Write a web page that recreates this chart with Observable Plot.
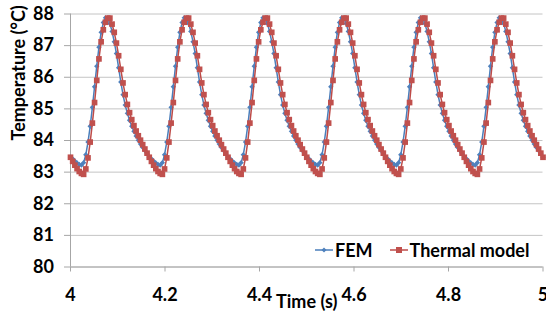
<!DOCTYPE html>
<html>
<head>
<meta charset="utf-8">
<script src="https://cdn.jsdelivr.net/npm/d3@7"></script>
<script src="https://cdn.jsdelivr.net/npm/@observablehq/plot@0.6"></script>
<style>
  html, body { margin: 0; padding: 0; background: #fff; }
  #wrap { position: relative; width: 546px; height: 324px; font-family: Lato, "DejaVu Sans", sans-serif; font-weight: bold; }
  #legend { position: absolute; left: 315px; top: 239px; display: flex; align-items: center; font-size: 18px; line-height: 22px; color: #000; white-space: nowrap; }
  #legend .item { display: flex; align-items: center; }
  #legend svg { display: block; }
</style>
</head>
<body>
<div id="wrap">
  <div id="chart"></div>
  <div id="legend"></div>
</div>
<script>
// Sampling grid (s)
const t0 = 4;
const dt = 1 / 216;

// FEM temperatures (°C)
const femValues = [
  83.47,83.42,83.35,83.29,83.24,83.22,83.30,83.55,83.95,84.45,85.05,85.70,86.35,86.95,87.42,87.73,87.88,87.85,87.70,87.45,87.12,86.75,86.30,85.85,85.45,85.12,84.86,84.64,84.45,84.29,84.14,84.01,83.89,83.78,83.68,83.58,
  83.47,83.42,83.35,83.29,83.24,83.22,83.30,83.55,83.95,84.45,85.05,85.70,86.35,86.95,87.42,87.73,87.88,87.85,87.70,87.45,87.12,86.75,86.30,85.85,85.45,85.12,84.86,84.64,84.45,84.29,84.14,84.01,83.89,83.78,83.68,83.58,
  83.47,83.42,83.35,83.29,83.24,83.22,83.30,83.55,83.95,84.45,85.05,85.70,86.35,86.95,87.42,87.73,87.88,87.85,87.70,87.45,87.12,86.75,86.30,85.85,85.45,85.12,84.86,84.64,84.45,84.29,84.14,84.01,83.89,83.78,83.68,83.58,
  83.47,83.42,83.35,83.29,83.24,83.22,83.30,83.55,83.95,84.45,85.05,85.70,86.35,86.95,87.42,87.73,87.88,87.85,87.70,87.45,87.12,86.75,86.30,85.85,85.45,85.12,84.86,84.64,84.45,84.29,84.14,84.01,83.89,83.78,83.68,83.58,
  83.47,83.42,83.35,83.29,83.24,83.22,83.30,83.55,83.95,84.45,85.05,85.70,86.35,86.95,87.42,87.73,87.88,87.85,87.70,87.45,87.12,86.75,86.30,85.85,85.45,85.12,84.86,84.64,84.45,84.29,84.14,84.01,83.89,83.78,83.68,83.58,
  83.47,83.42,83.35,83.29,83.24,83.22,83.30,83.55,83.95,84.45,85.05,85.70,86.35,86.95,87.42,87.73,87.88,87.85,87.70,87.45,87.12,86.75,86.30,85.85,85.45,85.12,84.86,84.64,84.45,84.29,84.14,84.01,83.89,83.78,83.68,83.58,
  83.47
];

// Thermal model temperatures (°C)
const thermalValues = [
  83.47,83.34,83.22,83.11,83.02,82.96,82.93,83.10,83.45,83.95,84.55,85.20,85.90,86.58,87.12,87.50,87.74,87.87,87.87,87.68,87.42,87.08,86.68,86.25,85.82,85.45,85.14,84.88,84.66,84.47,84.30,84.15,84.01,83.87,83.73,83.60,
  83.47,83.34,83.22,83.11,83.02,82.96,82.93,83.10,83.45,83.95,84.55,85.20,85.90,86.58,87.12,87.50,87.74,87.87,87.87,87.68,87.42,87.08,86.68,86.25,85.82,85.45,85.14,84.88,84.66,84.47,84.30,84.15,84.01,83.87,83.73,83.60,
  83.47,83.34,83.22,83.11,83.02,82.96,82.93,83.10,83.45,83.95,84.55,85.20,85.90,86.58,87.12,87.50,87.74,87.87,87.87,87.68,87.42,87.08,86.68,86.25,85.82,85.45,85.14,84.88,84.66,84.47,84.30,84.15,84.01,83.87,83.73,83.60,
  83.47,83.34,83.22,83.11,83.02,82.96,82.93,83.10,83.45,83.95,84.55,85.20,85.90,86.58,87.12,87.50,87.74,87.87,87.87,87.68,87.42,87.08,86.68,86.25,85.82,85.45,85.14,84.88,84.66,84.47,84.30,84.15,84.01,83.87,83.73,83.60,
  83.47,83.34,83.22,83.11,83.02,82.96,82.93,83.10,83.45,83.95,84.55,85.20,85.90,86.58,87.12,87.50,87.74,87.87,87.87,87.68,87.42,87.08,86.68,86.25,85.82,85.45,85.14,84.88,84.66,84.47,84.30,84.15,84.01,83.87,83.73,83.60,
  83.47,83.34,83.22,83.11,83.02,82.96,82.93,83.10,83.45,83.95,84.55,85.20,85.90,86.58,87.12,87.50,87.74,87.87,87.87,87.68,87.42,87.08,86.68,86.25,85.82,85.45,85.14,84.88,84.66,84.47,84.30,84.15,84.01,83.87,83.73,83.60,
  83.47
];

const xTicks = [4, 4.2, 4.4, 4.6, 4.8, 5];
const yTicks = [80, 81, 82, 83, 84, 85, 86, 87, 88];
const seriesNames = ["FEM", "Thermal model"];
const xTitle = "Time (s)";
const yTitle = "Temperature (°C)";

const blue = "#4A7EBB";
const red = "#BE4B48";
const gridColor = "#c4c4c4";
const axisColor = "#a6a6a6";

const fem = femValues.map((v, i) => ({t: t0 + i * dt, v}));
const thermal = thermalValues.map((v, i) => ({t: t0 + i * dt, v}));

const chart = Plot.plot({
  width: 546,
  height: 324,
  marginLeft: 70,
  marginRight: 3.5,
  marginTop: 13.5,
  marginBottom: 57.5,
  x: {domain: [xTicks[0], xTicks[xTicks.length - 1]]},
  y: {domain: [yTicks[0], yTicks[yTicks.length - 1]]},
  style: {fontFamily: "Lato, 'DejaVu Sans', sans-serif", fontWeight: "bold", fontSize: "18px", color: "#000", background: "#fff", overflow: "visible"},
  marks: [
    Plot.gridY(yTicks, {stroke: gridColor, strokeOpacity: 1}),
    Plot.ruleX([xTicks[0]], {stroke: axisColor}),
    Plot.ruleY([yTicks[0]], {stroke: axisColor}),
    Plot.axisY(yTicks, {tickSize: 6, tickPadding: 10.5, stroke: axisColor, fill: "#000", label: null, tickFormat: d => String(d)}),
    Plot.axisX(xTicks, {tickSize: 5, tickPadding: 16.5, stroke: axisColor, fill: "#000", label: null, tickFormat: d => String(d)}),
    Plot.line(fem, {x: "t", y: "v", stroke: blue, strokeWidth: 1.5}),
    Plot.dot(fem, {x: "t", y: "v", symbol: "diamond2", r: 2.4, fill: "#4F81BD", stroke: "none"}),
    Plot.line(thermal, {x: "t", y: "v", stroke: red, strokeWidth: 1.5}),
    Plot.dot(thermal, {x: "t", y: "v", symbol: "square", r: 3.2, fill: "#C0504D", stroke: "none"}),
    Plot.text([xTitle], {text: d => d, frameAnchor: "bottom", dy: 41, fill: "#000"}),
    Plot.text([yTitle], {text: d => d, frameAnchor: "left", dx: -51, rotate: -90, fill: "#000"})
  ]
});
document.getElementById("chart").appendChild(chart);

// Legend
const legend = document.getElementById("legend");
const swatches = [
  {name: seriesNames[0], line: blue, fill: "#4F81BD", shape: "diamond"},
  {name: seriesNames[1], line: red, fill: "#C0504D", shape: "square"}
];
swatches.forEach((s, k) => {
  const item = document.createElement("div");
  item.className = "item";
  if (k > 0) item.style.marginLeft = "17px";
  const marker = s.shape === "diamond"
    ? `<path d="M9,5.5 L11.5,8 L9,10.5 L6.5,8 Z" fill="${s.fill}"/>`
    : `<rect x="6" y="5" width="6" height="6" fill="${s.fill}"/>`;
  item.innerHTML = `<svg width="18" height="16"><line x1="0" y1="8" x2="18" y2="8" stroke="${s.line}" stroke-width="1.5"/>${marker}</svg><span style="margin-left:2px">${s.name}</span>`;
  legend.appendChild(item);
});
</script>
</body>
</html>
